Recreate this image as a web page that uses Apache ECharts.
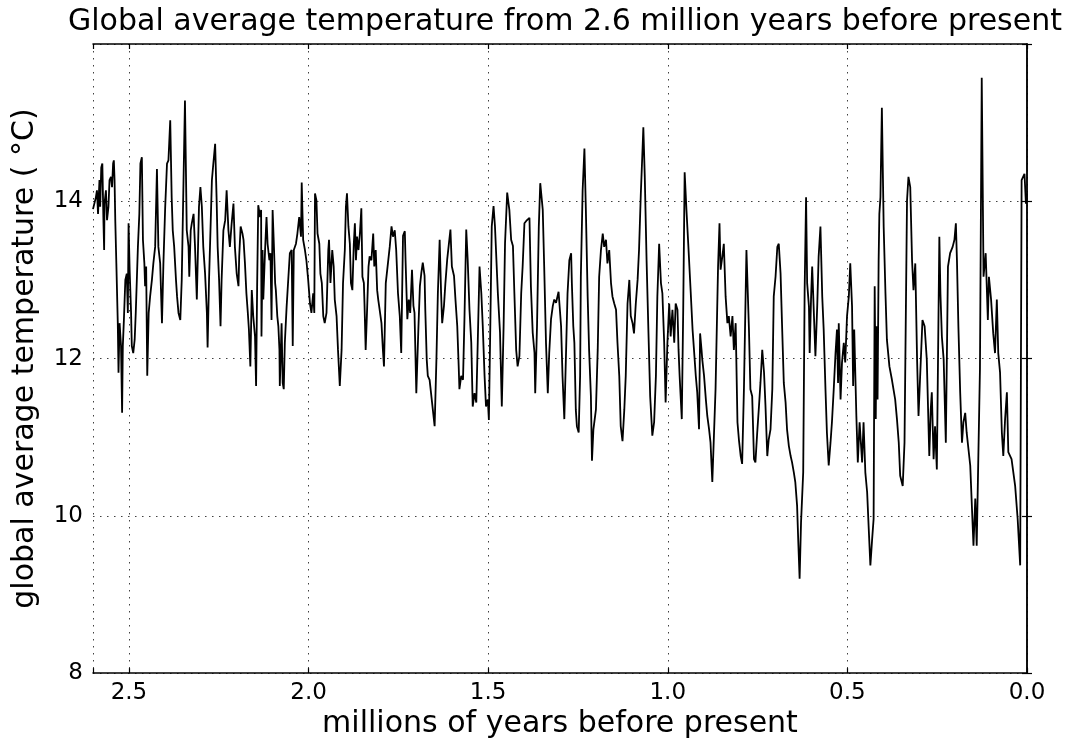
<!DOCTYPE html>
<html>
<head>
<meta charset="utf-8">
<script src="https://cdn.jsdelivr.net/npm/echarts@6/dist/echarts.min.js"></script>
<style>html,body{margin:0;padding:0;background:#fff}#c{width:1065px;height:744px}</style>
</head>
<body>
<div id="c"></div>
<script>
// [age (millions of years before present), global average temperature (°C)]
const seg2600to2160 = [
[2.600,13.90],[2.592,14.05],[2.589,14.14],[2.586,13.84],[2.582,14.27],[2.580,13.93],[2.577,14.43],[2.574,14.48],
[2.571,13.76],[2.569,13.38],[2.568,13.97],[2.564,14.14],[2.561,13.76],[2.557,13.93],[2.554,14.27],[2.550,14.31],
[2.547,14.18],[2.544,14.48],[2.542,14.52],[2.540,14.27],[2.538,13.76],[2.535,13.21],[2.531,12.45],[2.529,11.82],
[2.526,12.45],[2.522,12.16],[2.519,11.31],[2.517,12.16],[2.514,12.49],[2.510,13.00],[2.506,13.08],[2.503,12.58],
[2.501,13.72],[2.498,13.13],[2.494,12.58],[2.492,12.16],[2.488,12.07],[2.484,12.24],[2.481,12.58],[2.478,13.00],
[2.475,13.42],[2.471,13.84],[2.468,14.48],[2.464,14.56],[2.461,13.51],[2.457,13.21],[2.455,12.92],[2.452,13.17],
[2.449,11.78],[2.445,12.58],[2.441,12.79],[2.436,13.00],[2.432,13.21],[2.427,13.42],[2.422,14.41],[2.418,13.42],
[2.413,13.21],[2.408,12.45],[2.404,13.21],[2.399,13.93],[2.394,14.48],[2.390,14.52],[2.385,15.03],[2.381,14.05],
[2.378,13.63],[2.374,13.42],[2.369,13.00],[2.366,12.79],[2.362,12.58],[2.357,12.49],[2.353,13.00],[2.348,14.27],
[2.344,15.28],[2.339,13.63],[2.334,13.42],[2.332,13.04],[2.328,13.63],[2.325,13.72],[2.320,13.84],[2.316,13.42],
[2.311,12.75],[2.308,13.34],[2.305,13.93],[2.301,14.18],[2.297,13.93],[2.293,13.42],[2.288,13.08],[2.283,12.58],
[2.281,12.14],[2.277,13.00],[2.273,13.63],[2.269,14.27],[2.265,14.48],[2.260,14.73],[2.256,14.05],[2.253,13.42],
[2.249,13.00],[2.245,12.41],[2.242,13.00],[2.237,13.63],[2.232,13.76],[2.228,14.14],[2.223,13.63],[2.219,13.42],
[2.214,13.72],[2.209,13.97],[2.205,13.42],[2.200,13.08],[2.195,12.92],[2.193,13.30],[2.189,13.68],[2.184,13.59],
[2.181,13.51],[2.177,13.21],[2.173,12.83],[2.169,12.58],[2.166,12.37],[2.162,11.90]
];
const seg2160to1740 = [
[2.158,12.87],[2.154,12.54],[2.149,12.28],[2.146,11.65],[2.143,12.96],[2.140,13.95],[2.135,13.80],[2.132,13.89],
[2.131,12.28],[2.128,13.38],[2.126,12.75],[2.121,13.38],[2.117,13.80],[2.114,13.46],[2.109,13.25],[2.106,13.34],
[2.103,12.49],[2.100,13.89],[2.096,13.38],[2.093,12.96],[2.091,12.87],[2.087,12.54],[2.084,12.41],[2.081,12.11],
[2.080,11.65],[2.075,12.45],[2.072,11.69],[2.069,11.61],[2.066,12.20],[2.061,12.66],[2.056,13.04],[2.052,13.34],
[2.047,13.38],[2.044,12.16],[2.041,13.38],[2.035,13.46],[2.031,13.59],[2.026,13.80],[2.021,13.55],[2.019,14.24],
[2.015,13.51],[2.010,13.38],[2.006,13.25],[2.001,13.00],[1.996,12.70],[1.992,12.58],[1.987,12.83],[1.984,12.58],
[1.982,14.10],[1.978,14.01],[1.975,13.59],[1.970,13.46],[1.967,13.08],[1.963,12.96],[1.959,12.54],[1.955,12.45],
[1.950,12.58],[1.945,13.38],[1.943,13.51],[1.939,12.96],[1.934,13.38],[1.930,13.17],[1.927,12.75],[1.922,12.54],
[1.918,12.11],[1.913,11.65],[1.908,12.11],[1.904,12.96],[1.899,13.38],[1.896,13.93],[1.893,14.10],[1.889,13.68],
[1.885,13.46],[1.882,12.96],[1.878,12.87],[1.874,13.46],[1.871,13.72],[1.868,13.25],[1.865,13.55],[1.861,13.38],
[1.857,13.59],[1.853,13.91],[1.850,13.04],[1.846,12.96],[1.844,12.66],[1.841,12.11],[1.837,12.62],[1.833,13.17],
[1.830,13.30],[1.825,13.25],[1.820,13.59],[1.817,13.17],[1.813,13.38],[1.809,12.87],[1.806,12.75],[1.802,12.62],
[1.797,12.45],[1.793,12.11],[1.790,11.90],[1.785,12.96],[1.779,13.21],[1.774,13.42],[1.769,13.68],[1.765,13.55],
[1.760,13.63],[1.756,13.38],[1.751,12.83],[1.746,12.54],[1.742,12.07]
];
const seg1740to1310 = [
[1.737,13.56],[1.732,13.62],[1.730,13.26],[1.725,12.50],[1.721,12.75],[1.717,12.58],[1.712,13.13],[1.708,12.67],
[1.705,12.58],[1.700,11.56],[1.697,11.56],[1.694,12.41],[1.690,12.92],[1.686,13.09],[1.682,13.22],[1.677,13.05],
[1.675,12.62],[1.671,11.99],[1.668,11.78],[1.663,11.73],[1.658,11.52],[1.654,11.35],[1.649,11.14],[1.644,11.99],
[1.640,12.83],[1.635,13.51],[1.631,12.83],[1.628,12.45],[1.623,12.67],[1.619,12.96],[1.614,13.26],[1.610,13.43],
[1.605,13.64],[1.601,13.17],[1.595,13.05],[1.591,12.75],[1.586,12.41],[1.582,11.90],[1.580,11.61],[1.575,11.78],
[1.570,11.73],[1.566,12.50],[1.561,13.64],[1.557,13.26],[1.552,12.62],[1.547,12.20],[1.543,11.39],[1.538,11.56],
[1.533,11.44],[1.529,12.20],[1.524,13.17],[1.519,12.83],[1.515,12.41],[1.510,11.78],[1.506,11.39],[1.501,11.48],
[1.498,11.22],[1.494,12.41],[1.490,13.68],[1.485,13.94],[1.481,13.68],[1.473,12.83],[1.467,12.33],[1.462,11.39],
[1.457,12.41],[1.453,13.47],[1.447,14.11],[1.441,13.89],[1.436,13.51],[1.431,13.43],[1.427,12.83],[1.422,12.11],
[1.418,11.90],[1.413,12.03],[1.408,12.83],[1.404,13.17],[1.399,13.72],[1.394,13.75],[1.390,13.77],[1.385,13.79],
[1.381,12.92],[1.376,12.33],[1.371,12.07],[1.369,11.56],[1.364,12.41],[1.359,13.68],[1.355,14.23],[1.348,13.89],
[1.344,13.17],[1.339,12.20],[1.334,11.56],[1.330,12.07],[1.325,12.50],[1.320,12.67],[1.316,12.75],[1.311,12.71]
];
const seg1310to880 = [
[1.304,12.85],[1.297,12.41],[1.293,11.78],[1.288,11.23],[1.283,12.11],[1.279,12.83],[1.274,13.25],[1.269,13.34],
[1.267,12.96],[1.263,12.41],[1.260,12.20],[1.256,11.35],[1.253,11.14],[1.248,11.06],[1.244,11.78],[1.242,13.04],
[1.237,14.14],[1.232,14.67],[1.228,13.89],[1.223,12.79],[1.219,12.11],[1.214,11.52],[1.211,10.70],[1.207,11.10],
[1.200,11.35],[1.195,12.11],[1.191,13.04],[1.186,13.38],[1.181,13.59],[1.177,13.42],[1.172,13.51],[1.168,13.21],
[1.163,13.38],[1.158,12.96],[1.154,12.79],[1.149,12.70],[1.144,12.62],[1.140,12.20],[1.135,11.78],[1.131,11.14],
[1.126,10.95],[1.121,11.35],[1.117,11.78],[1.112,12.70],[1.107,13.00],[1.103,12.54],[1.098,12.45],[1.094,12.32],
[1.089,12.70],[1.084,13.00],[1.080,13.38],[1.075,14.10],[1.070,14.69],[1.068,14.94],[1.064,14.31],[1.059,13.25],
[1.054,12.37],[1.049,11.52],[1.043,11.02],[1.038,11.19],[1.033,11.78],[1.029,12.79],[1.024,13.46],[1.019,12.96],
[1.015,12.83],[1.010,12.20],[1.006,11.44],[1.001,12.20],[0.996,12.70],[0.992,12.28],[0.987,12.62],[0.982,12.20],
[0.978,12.70],[0.973,12.62],[0.970,12.11],[0.967,11.78],[0.961,11.23],[0.957,12.62],[0.953,14.37],[0.948,13.89],
[0.943,13.46],[0.936,12.83],[0.931,12.37],[0.927,12.11],[0.922,11.78],[0.918,11.57],[0.913,11.10],[0.910,12.32],
[0.906,12.11],[0.904,11.99],[0.899,11.78],[0.894,11.48],[0.890,11.27],[0.885,11.10],[0.881,10.93]
];
const seg880to450 = [
[0.876,10.43],[0.873,10.43],[0.867,11.61],[0.860,13.17],[0.856,13.72],[0.853,13.13],[0.848,13.30],[0.844,13.46],
[0.839,12.79],[0.834,12.45],[0.830,12.54],[0.825,12.28],[0.820,12.54],[0.816,12.11],[0.811,12.45],[0.806,11.19],
[0.802,10.97],[0.797,10.76],[0.793,10.66],[0.788,11.61],[0.781,13.38],[0.774,12.37],[0.770,11.61],[0.765,11.52],
[0.760,10.72],[0.756,10.68],[0.751,11.06],[0.746,11.40],[0.742,11.69],[0.737,12.11],[0.732,11.82],[0.728,11.40],
[0.723,10.76],[0.719,10.97],[0.714,11.10],[0.709,11.61],[0.705,12.79],[0.700,13.04],[0.695,13.42],[0.691,13.46],
[0.686,13.08],[0.682,12.45],[0.677,11.69],[0.672,11.44],[0.668,11.10],[0.663,10.89],[0.658,10.76],[0.654,10.68],
[0.649,10.55],[0.645,10.43],[0.640,10.13],[0.637,9.71],[0.633,9.20],[0.629,9.92],[0.623,10.55],[0.619,12.87],
[0.615,14.05],[0.612,12.96],[0.607,12.66],[0.605,12.07],[0.601,12.79],[0.598,13.17],[0.594,12.66],[0.589,12.03],
[0.584,12.66],[0.580,13.30],[0.575,13.68],[0.570,12.79],[0.566,12.37],[0.561,11.61],[0.557,11.06],[0.552,10.64],
[0.547,10.93],[0.543,11.19],[0.538,11.61],[0.533,12.07],[0.529,12.37],[0.526,11.69],[0.524,12.45],[0.519,11.48],
[0.515,11.95],[0.510,12.20],[0.506,11.95],[0.501,12.54],[0.496,12.79],[0.492,13.21],[0.487,12.66],[0.484,11.65],
[0.481,12.37],[0.475,11.27],[0.471,10.68],[0.466,11.19],[0.459,10.68],[0.455,11.19],[0.450,10.55]
];
const seg450to0 = [
[0.445,10.30],[0.441,9.88],[0.436,9.37],[0.431,9.71],[0.427,9.96],[0.424,12.92],[0.421,11.23],[0.419,12.41],
[0.416,11.48],[0.413,13.25],[0.411,13.84],[0.408,14.05],[0.404,15.19],[0.399,13.68],[0.394,12.83],[0.390,12.24],
[0.383,11.90],[0.376,11.73],[0.367,11.48],[0.362,11.23],[0.357,10.93],[0.353,10.51],[0.346,10.38],[0.341,10.93],
[0.334,14.01],[0.330,14.31],[0.325,14.18],[0.320,13.25],[0.316,12.87],[0.311,13.21],[0.306,11.99],[0.302,11.27],
[0.297,11.25],[0.291,12.49],[0.285,12.41],[0.279,11.99],[0.272,10.76],[0.268,11.35],[0.265,11.57],[0.260,10.72],
[0.256,11.14],[0.251,10.59],[0.244,13.55],[0.241,12.83],[0.237,12.28],[0.232,11.99],[0.226,10.93],[0.220,13.17],
[0.214,13.34],[0.207,13.42],[0.202,13.51],[0.198,13.72],[0.195,13.25],[0.191,12.41],[0.186,11.57],[0.181,10.93],
[0.177,11.19],[0.172,11.31],[0.168,11.06],[0.158,10.64],[0.149,9.62],[0.144,10.22],[0.140,9.62],[0.131,11.86],
[0.126,15.57],[0.121,13.04],[0.115,13.34],[0.109,12.49],[0.106,13.04],[0.100,12.75],[0.094,12.32],[0.089,12.07],
[0.084,12.75],[0.080,12.07],[0.075,11.82],[0.070,11.06],[0.066,10.76],[0.061,11.23],[0.056,11.57],[0.052,10.81],
[0.043,10.72],[0.033,10.38],[0.026,9.96],[0.019,9.37],[0.015,14.27],[0.007,14.35],[0.003,13.97],[0.000,14.10]
];

const xTickValues = [0.0, 0.5, 1.0, 1.5, 2.0, 2.5];
const yTickValues = [8, 10, 12, 14];

const series = [].concat(seg2600to2160, seg2160to1740, seg1740to1310, seg1310to880, seg880to450, seg450to0);

const FONT = 'DejaVu Sans';
const chart = echarts.init(document.getElementById('c'), null, {renderer: 'canvas'});
const gridLine = {show: true, lineStyle: {color: '#000', width: 1, type: [1.5, 5.5], opacity: 0.75}};
const tick = {show: true, inside: true, length: 5, lineStyle: {color: '#000', width: 1.2}};
const axLine = {show: true, lineStyle: {color: '#000', width: 1.5}};
const xFmt = v => xTickValues.some(t => Math.abs(t - v) < 1e-6) ? v.toFixed(1) : '';
const yFmt = v => yTickValues.indexOf(Math.round(v)) >= 0 && Math.abs(v - Math.round(v)) < 1e-6 ? String(v) : '';

chart.setOption({
  animation: false,
  backgroundColor: '#fff',
  title: {
    text: 'Global average temperature from 2.6 million years before present',
    left: 560, top: 2, textAlign: 'center',
    textStyle: {fontFamily: FONT, fontSize: 30, fontWeight: 'normal', color: '#000'}
  },
  grid: {left: 93, right: 38, top: 44, bottom: 69},
  xAxis: [{
    type: 'value', inverse: true, min: 0, max: 2.6, interval: 0.5,
    name: 'millions of years before present', nameLocation: 'middle', nameGap: 34,
    nameTextStyle: {fontFamily: FONT, fontSize: 30, color: '#000'},
    axisLine: axLine, axisTick: tick, splitLine: gridLine,
    axisLabel: {fontFamily: FONT, fontSize: 23, color: '#000', margin: 8, formatter: xFmt}
  }, {
    type: 'value', inverse: true, min: 0, max: 2.6, interval: 0.5, position: 'top',
    axisLine: axLine, axisTick: tick, splitLine: {show: false}, axisLabel: {show: false}
  }],
  yAxis: [{
    type: 'value', min: 8, max: 16, interval: 2,
    name: 'global average temperature ( °C)', nameLocation: 'middle', nameGap: 53, nameRotate: 90,
    nameTextStyle: {fontFamily: FONT, fontSize: 30, color: '#000'},
    axisLine: axLine, axisTick: tick, splitLine: gridLine,
    axisLabel: {fontFamily: FONT, fontSize: 23, color: '#000', margin: 10, formatter: yFmt}
  }, {
    type: 'value', min: 8, max: 16, interval: 2, position: 'right',
    axisLine: axLine, axisTick: tick, splitLine: {show: false}, axisLabel: {show: false}
  }],
  series: [{
    type: 'line', data: series, xAxisIndex: 0, yAxisIndex: 0,
    symbol: 'none', sampling: null,
    lineStyle: {color: '#000', width: 1.8}
  }]
});
</script>
</body>
</html>
